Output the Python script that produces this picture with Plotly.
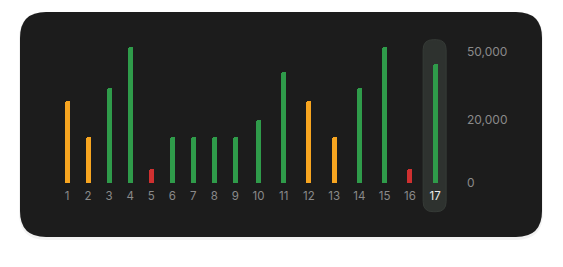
import numpy as np
import plotly.graph_objects as go

# ---- data ----
labels = [str(i) for i in range(1, 18)]
values = [28500, 14500, 34000, 52000, 4300, 14500, 14500, 14500, 14500,
          20000, 41000, 28500, 14500, 34000, 52000, 4300, 44500]
status = ["warn", "warn", "ok", "ok", "bad", "ok", "ok", "ok", "ok",
          "ok", "ok", "warn", "warn", "ok", "ok", "bad", "ok"]
tick_values = [0, 20000, 50000]
tick_labels = ["0", "20,000", "50,000"]
highlight = "17"

# ---- styles ----
STATUS_COLORS = {"ok": "#2f9b4a", "warn": "#f7a520", "bad": "#cf3030"}
CARD = "#1c1c1c"
PILL = "#2e322f"
TXT = "#8a8a8a"
FONT = "Inter"

# custom (piecewise) value scale: tick values -> axis position
TICK_POS = [0, 62.7, 131.4]


def to_axis(v):
    v = np.asarray(v, float)
    lo = v / tick_values[1] * TICK_POS[1]
    hi = TICK_POS[1] + (v - tick_values[1]) / (tick_values[2] - tick_values[1]) * (TICK_POS[2] - TICK_POS[1])
    return np.where(v <= tick_values[1], lo, hi)


# x positions laid out like flex columns sized by label width
CHAR_W, GAP = 4.2, 16.84
xpos = [0.0]
for a, b in zip(labels[:-1], labels[1:]):
    xpos.append(xpos[-1] + GAP + CHAR_W * (len(a) + len(b)) / 2)

colors = [STATUS_COLORS[s] for s in status]
ticktext = [f"<span style='color:#ececec'>{l}</span>" if l == highlight else l for l in labels]


def rrect(x0, y0, x1, y1, r):
    return (f"M{x0+r},{y0} L{x1-r},{y0} Q{x1},{y0} {x1},{y0+r} L{x1},{y1-r} "
            f"Q{x1},{y1} {x1-r},{y1} L{x0+r},{y1} Q{x0},{y1} {x0},{y1-r} "
            f"L{x0},{y0+r} Q{x0},{y0} {x0+r},{y0} Z")


fig = go.Figure()
fig.add_trace(go.Bar(
    x=xpos, y=to_axis(values), width=5,
    marker=dict(color=colors, line=dict(width=0), cornerradius="50%"),
    hoverinfo="skip",
))

hi_x = xpos[labels.index(highlight)]
shapes = [
    # soft shadow
    dict(type="path", xref="paper", yref="paper", xsizemode="pixel", ysizemode="pixel",
         xanchor=0, yanchor=0, path=rrect(-11, -25, 513, 203, 27),
         fillcolor="rgba(0,0,0,0.05)", line=dict(width=0), layer="below"),
    # card
    dict(type="path", xref="paper", yref="paper", xsizemode="pixel", ysizemode="pixel",
         xanchor=0, yanchor=0, path=rrect(-10, -22, 512, 203, 26),
         fillcolor=CARD, line=dict(width=0), layer="below"),
    # highlight pill
    dict(type="path", xref="x", yref="y", xsizemode="pixel", ysizemode="pixel",
         xanchor=hi_x, yanchor=0, path=rrect(-12, -29, 11, 143, 10),
         fillcolor=PILL, line=dict(color="#363b37", width=1), layer="below"),
]

fig.update_layout(
    width=563, height=267,
    margin=dict(l=30, r=105, t=35, b=52),
    paper_bgcolor="white", plot_bgcolor="rgba(0,0,0,0)",
    showlegend=False, bargap=0,
    font=dict(family=FONT, size=11, color=TXT),
    shapes=shapes,
    xaxis=dict(range=[-37, 391], tickvals=xpos, ticktext=ticktext,
               showgrid=False, zeroline=False, showline=False, ticks="",
               anchor="free", position=(215 - 187) / 180,
               tickfont=dict(family=FONT, size=11.5, color=TXT), fixedrange=True),
    yaxis=dict(range=[-32.3, 147.7], tickvals=TICK_POS, ticktext=tick_labels,
               side="right", showgrid=False, zeroline=False, showline=False, ticks="",
               ticklabelstandoff=8,
               tickfont=dict(family=FONT, size=12, color=TXT), fixedrange=True),
)

fig.write_html("out.html", config={"displayModeBar": False})
